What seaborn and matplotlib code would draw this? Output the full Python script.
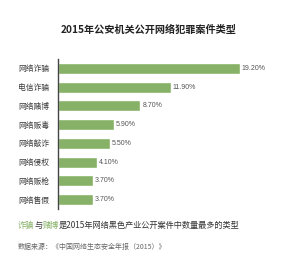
import matplotlib
matplotlib.use("Agg")
import matplotlib.pyplot as plt
import seaborn as sns
import pandas as pd

categories = ["网络诈骗", "电信诈骗", "网络赌博", "网络贩毒", "网络敲诈", "网络侵权", "网络贩枪", "网络售假"]
values = [19.2, 11.9, 8.7, 5.9, 5.5, 4.1, 3.7, 3.7]
title = "2015年公安机关公开网络犯罪案件类型"
note_parts = [("诈骗", "green"), ("与", "dark"), ("赌博", "green"), ("是2015年网络黑色产业公开案件中数量最多的类型", "dark")]
source = "数据来源：《中国网络生态安全年报（2015）》"

sns.set_theme(style="white")
plt.rcParams["font.family"] = ["Noto Sans CJK SC", "DejaVu Sans"]

df = pd.DataFrame({"cat": categories, "val": values})
GREEN = "#86b166"
DARK = "#333333"

fig = plt.figure(figsize=(3.0, 2.67), dpi=100)
ax = fig.add_axes([0.193, 0.217, 0.79, 0.562])
sns.barplot(data=df, x="val", y="cat", color=GREEN, width=0.58, ax=ax, saturation=1)
ax.set_xlim(0, 25)
ax.set_xlabel("")
ax.set_ylabel("")
ax.set_xticks([])
for s in ["top", "right", "bottom"]:
    ax.spines[s].set_visible(False)
ax.spines["left"].set_color("#444444")
ax.spines["left"].set_linewidth(1.0)
ax.tick_params(axis="y", length=0, pad=6.5, labelsize=5.6, labelcolor="#3a3a3a")

for i, v in enumerate(values):
    ax.text(v + 0.2, i, f"{v:.2f}%", va="center", ha="left", fontsize=5.0, color="#555555",
            family=["Liberation Sans", "DejaVu Sans"])

fig.text(0.495, 0.888, title, ha="center", va="center", fontsize=7.3, fontweight="bold", color="#222222")

renderer = fig.canvas.get_renderer()
x0, y0 = 0.06, 0.155
fs = 5.9
prefix = ""
for txt, col in note_parts:
    c = GREEN if col == "green" else DARK
    if prefix:
        m = fig.text(x0, y0, prefix, ha="left", va="center", fontsize=fs)
        w = m.get_window_extent(renderer).width / fig.bbox.width
        m.remove()
    else:
        w = 0.0
    fig.text(x0 + w, y0, txt, ha="left", va="center", fontsize=fs, color=c)
    prefix += txt

fig.text(0.06, 0.075, source, ha="left", va="center", fontsize=5.0, color="#666666")

fig.savefig("out.png", dpi=100)
